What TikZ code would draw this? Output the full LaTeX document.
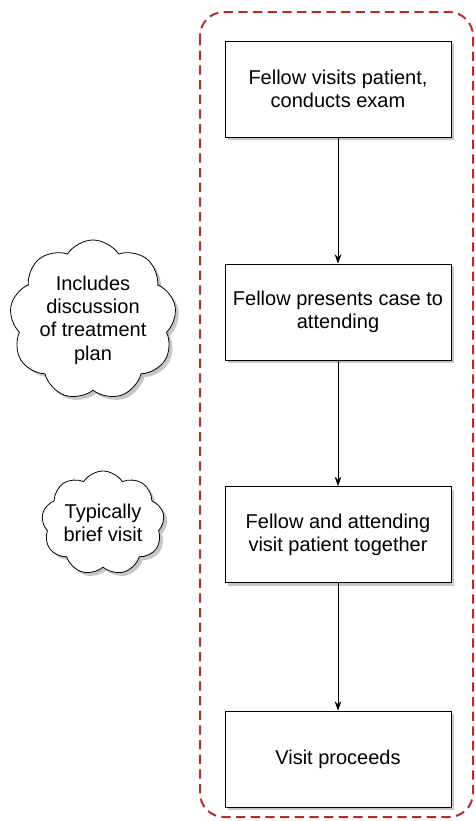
\documentclass[tikz,border=0pt]{standalone}
\usepackage{fontspec}
\setmainfont{Liberation Sans}
\usetikzlibrary{shapes.symbols,shadows,arrows.meta}
\definecolor{groupred}{HTML}{A83232}
\tikzset{
  stepbox/.style={draw, fill=white, line width=0.6pt, minimum width=169.5pt, minimum height=72pt,
    align=center, font=\fontsize{15}{17.5}\selectfont,
    drop shadow={opacity=0.45, shadow xshift=2.5pt, shadow yshift=-2.5pt}},
  note/.style={cloud, cloud puffs=9, cloud puff arc=115, cloud ignores aspect, draw, fill=white,
    line width=0.6pt, align=center, font=\fontsize{15}{17.5}\selectfont, inner sep=-14pt,
    drop shadow={opacity=0.45, shadow xshift=2.5pt, shadow yshift=-2.5pt}},
  flow/.style={-{Stealth[length=7pt,width=5pt]}, line width=0.5pt},
  group/.style={draw=groupred, line width=1.5pt, dash pattern=on 7pt off 4pt, rounded corners=18pt}
}
\begin{document}
\begin{tikzpicture}[x=0.75pt,y=-0.75pt]
\useasboundingbox (0,0) rectangle (475,821);
% dashed grouping frame around the steps
\draw[group] (200,12) rectangle (473,817);
% process steps
\node[stepbox] (s1) at (338,89) {Fellow visits patient,\\conducts exam};
\node[stepbox] (s2) at (338,312) {Fellow presents case to\\attending};
\node[stepbox] (s3) at (338,534.5) {Fellow and attending\\visit patient together};
\node[stepbox] (s4) at (338,759) {Visit proceeds};
\draw[flow] (s1) -- (s2);
\draw[flow] (s2) -- (s3);
\draw[flow] (s3) -- (s4);
% side notes
\node[note, minimum width=125pt, minimum height=120pt] (n1) at (93,320) {Includes\\discussion\\of treatment\\plan};
\node[note, minimum width=92pt, minimum height=78pt] (n2) at (103,523) {Typically\\brief visit};
\end{tikzpicture}
\end{document}
